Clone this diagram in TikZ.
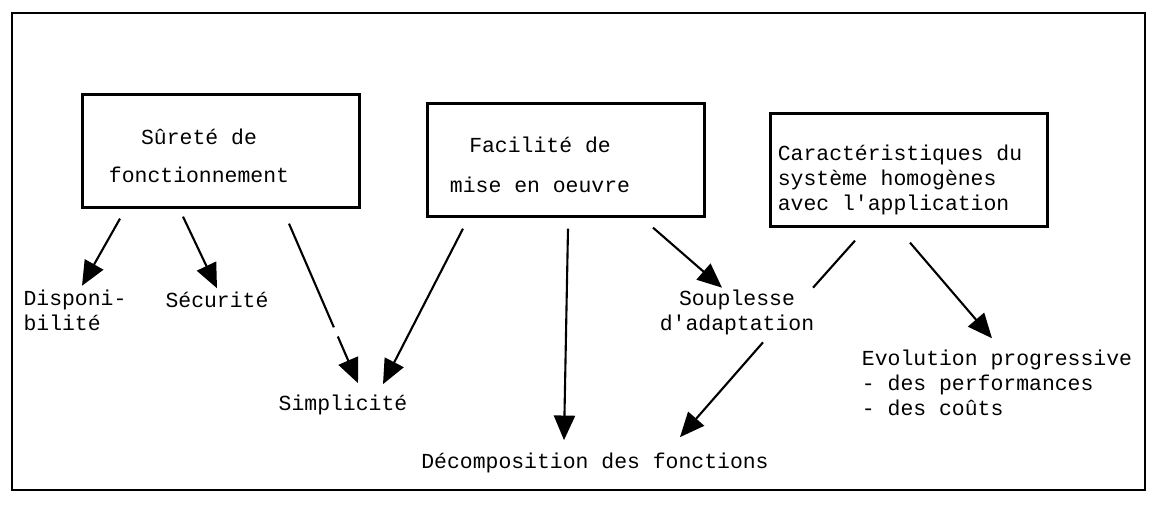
\documentclass[tikz,border=0pt]{standalone}
\usepackage{fontspec}
\setmonofont{Liberation Mono}
\usetikzlibrary{arrows.meta,calc}
\tikzset{
  cadre/.style={draw, line width=1.3pt, minimum width=5.54cm, minimum height=2.26cm, inner sep=0pt},
  texte/.style={font=\ttfamily\fontsize{12.2}{14.2}\selectfont, inner sep=2pt},
  fleche/.style={line width=1.2pt, -{Triangle[length=14pt,width=12pt]}},
  trait/.style={line width=1.2pt},
}

\begin{document}
\begin{tikzpicture}[x=0.02cm,y=-0.02cm]
	\useasboundingbox (0,0) rectangle (1153,512);
	
	% Cadre général
	\draw[line width=1.3pt] (12,13) rectangle (1145,490);
	
	% Boîtes du haut
	\node[cadre] (sur) at (221,151) {};
	\node[texte, align=center, font=\ttfamily\fontsize{12.2}{21.6}\selectfont] (surtxt) at (199,156) {Sûreté de\\fonctionnement};
	
	\node[cadre] (fac) at (566,160) {};
	\node[texte, align=center, font=\ttfamily\fontsize{12.2}{22.8}\selectfont] (factxt) at (540,165) {Facilité de\\mise en oeuvre};
	
	\node[cadre] (car) at (909,170) {};
	\node[texte, align=left] (cartxt) at (900,180) {Caractéristiques du\\système homogènes\\avec l'application};
	
	% Qualités obtenues
	\node[texte, align=left] (dispo) at (75,310) {Disponi-\\bilité};
	\node[texte] (secu) at (217,300) {Sécurité};
	\node[texte] (simp) at (343,405) {Simplicité};
	\node[texte] (decomp) at (595,463) {Décomposition des fonctions};
	\node[texte, align=center] (soup) at (737,312) {Souplesse\\d'adaptation};
	\node[texte, align=left] (evol) at (997,383) {Evolution progressive\\- des performances\\- des coûts};
	
	% Flèches depuis Sûreté de fonctionnement
	\draw[fleche] ($(sur.south)+(-101,10)$) -- ($(dispo.north)+(7,0)$);
	\draw[fleche] ($(sur.south)+(-38,8)$) -- (secu.north);
	\draw[fleche, dash pattern=on 2.26cm off 0.2cm on 3cm] ($(sur.south)+(68,15)$) -- ($(simp.north)+(15,-8)$);
	
	% Flèches depuis Facilité de mise en oeuvre
	\draw[fleche] ($(fac.south)+(-103,11)$) -- ($(simp.north)+(40,-7)$);
	\draw[fleche] ($(fac.south)+(2,11)$) -- ($(decomp.north)+(-31,-9)$);
	\draw[fleche] ($(fac.south)+(87,10)$) -- ($(soup.north)+(-15,2)$);
	
	% Liens depuis les caractéristiques du système
	\draw[trait] ($(car.south)+(-54,13)$) -- ($(soup.north east)+(-5,2)$);
	\draw[fleche] ($(car.south)+(1,15)$) -- ($(evol.north)+(-5,-8)$);
	
	\draw[fleche] ($(soup.south)+(26,4)$) -- ($(decomp.north)+(85,-12)$);
	
\end{tikzpicture}
\end{document}
